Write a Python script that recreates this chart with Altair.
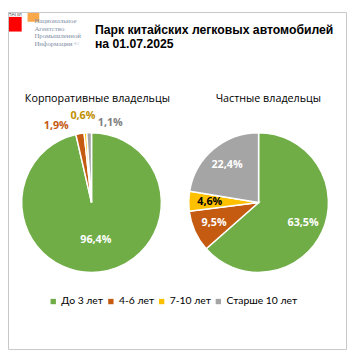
import altair as alt
import pandas as pd

ages = ["До 3 лет", "4-6 лет", "7-10 лет", "Старше 10 лет"]
corporate = [96.4, 1.9, 0.6, 1.1]
private = [63.5, 9.5, 4.6, 22.4]
colors = ["#70AD47", "#C55A11", "#FFC000", "#A5A5A5"]

title_lines = ["Парк китайских легковых автомобилей", "на 01.07.2025"]
subtitles = ["Корпоративные владельцы", "Частные владельцы"]
logo_lines = ["Национальное", "Агентство", "Промышленной", "Информации ©"]

rows = []
for grp, vals in (("corp", corporate), ("priv", private)):
    for i, (a, v) in enumerate(zip(ages, vals)):
        rows.append({"group": grp, "age": a, "value": v, "order": i,
                     "label": f"{v:.1f}%".replace(".", ",")})
df = pd.DataFrame(rows)

FONT = "Open Sans"
R = 71.5
C1 = (85.5, 195)
C2 = (256.5, 195)

color = alt.Color("age:N", scale=alt.Scale(domain=ages, range=colors),
                  sort=ages,
                  legend=alt.Legend(orient="none", legendX=41, legendY=291,
                                    direction="horizontal", title=None,
                                    symbolType="square", symbolSize=30,
                                    symbolStrokeWidth=0, labelFont="Lato",
                                    labelFontSize=10.6, labelColor="#000000",
                                    labelOffset=3, columnPadding=2, labelLimit=200))

base = alt.Chart(df)


def pie(grp, c, legend=True):
    return base.transform_filter(alt.datum.group == grp).mark_arc(
        outerRadius=R, stroke="white", strokeWidth=1.5
    ).encode(
        theta=alt.Theta("value:Q", stack=True),
        color=color if legend else alt.Color("age:N", scale=alt.Scale(domain=ages, range=colors), legend=None),
        order=alt.Order("order:Q"),
        x=alt.value(c[0]), y=alt.value(c[1]),
    )


def lab(grp, c, cats, radius, fill, dx=0, dy=0):
    return base.transform_filter(alt.datum.group == grp).mark_text(
        radius=radius, font=FONT, fontSize=11, fontWeight="bold", fill=fill, dx=dx, dy=dy
    ).encode(
        theta=alt.Theta("value:Q", stack=True),
        order=alt.Order("order:Q"),
        text=alt.condition(alt.FieldOneOfPredicate(field="age", oneOf=cats), "label:N", alt.value("")),
        x=alt.value(c[0]), y=alt.value(c[1]),
    )


layers = [
    pie("corp", C1, True),
    pie("priv", C2, False),
    lab("corp", C1, [ages[0]], 39, "white"),
    lab("corp", C1, [ages[1]], 79, "#C55A11", dx=-23),
    lab("corp", C1, [ages[2]], 89, "#BF9000", dx=-1),
    lab("corp", C1, [ages[3]], 81, "#7F7F7F", dx=22),
    lab("priv", C2, [ages[0], ages[1], ages[3]], 50, "white"),
    lab("priv", C2, [ages[2]], 50, "black"),
]

one = pd.DataFrame({"k": [0]})
deco = alt.Chart(one)

title = [deco.mark_text(text=t, font="Liberation Sans", fontSize=12.5, fontWeight="bold",
                        align="left", baseline="alphabetic", color="black").encode(
    x=alt.value(89), y=alt.value(yy)) for t, yy in zip(title_lines, [23, 36.5])]

subt = [deco.mark_text(text=t, font=FONT, fontSize=11, align="center", baseline="alphabetic",
                       color="#000000").encode(x=alt.value(cx), y=alt.value(92))
        for t, cx in zip(subtitles, [C1[0] + 6, C2[0] + 10])]

logo_txt = [deco.mark_text(text=t, font="Liberation Sans Narrow", fontSize=7, align="left",
                           baseline="alphabetic", color="#7F8FA6").encode(
    x=alt.value(27), y=alt.value(yy)) for t, yy in zip(logo_lines, [11, 19, 27, 35])]

red = deco.mark_rect(color="#FF0000").encode(x=alt.value(0), x2=alt.value(14), y=alt.value(5), y2=alt.value(20))
orange = deco.mark_rect(color="#F7941D", opacity=0.8).encode(x=alt.value(20), x2=alt.value(32), y=alt.value(0), y2=alt.value(10))
napi = deco.mark_text(text="НАПИ", fontSize=5, font="Liberation Sans", align="left", color="#555555").encode(
    x=alt.value(0), y=alt.value(2))
border = deco.mark_rect(fill=None, stroke="#C8C8C8", strokeWidth=1).encode(
    x=alt.value(0.5), x2=alt.value(346.5), y=alt.value(0.5), y2=alt.value(345.5))

chart = alt.layer(*layers, *title, *subt, red, orange, *logo_txt, napi, border).properties(
    width=347, height=348, padding=0, autosize=alt.AutoSizeParams(type="none")
).configure_view(stroke=None)

chart.save("out.html", embed_options={"renderer": "svg", "actions": False})
